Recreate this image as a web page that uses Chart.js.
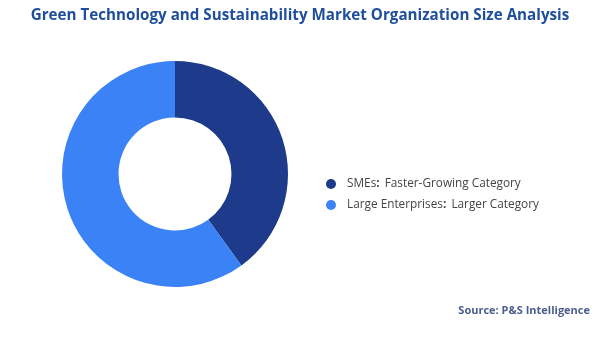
<!DOCTYPE html>
<html><head><meta charset="utf-8">
<script src="https://cdn.jsdelivr.net/npm/chart.js@4/dist/chart.umd.min.js"></script>
<style>html,body{margin:0;padding:0;background:#fff;}#wrap{width:600px;height:337px;position:relative;}</style>
</head><body><div id="wrap"><canvas id="c" width="600" height="337"></canvas></div>
<script>
const categories = ["SMEs", "Large Enterprises"];
const descriptions = ["Faster-Growing Category", "Larger Category"];
const shares = [40, 60];
const colors = ["#1e3a8a", "#3b82f6"];
const titleText = "Green Technology and Sustainability Market Organization Size Analysis";
const sourceText = "Source: P&S Intelligence";

const overlay = {
  id: 'overlay',
  afterDraw(chart) {
    const ctx = chart.ctx;
    ctx.save();
    ctx.fillStyle = '#1f4e9c';
    ctx.font = 'bold 15.2px "Open Sans", sans-serif';
    ctx.textAlign = 'center';
    ctx.textBaseline = 'middle';
    ctx.fillText(titleText, 300, 16);
    // legend
    ctx.textAlign = 'left';
    chart.data.labels.forEach((lab, i) => {
      const y = 184 + i * 21;
      ctx.fillStyle = chart.data.datasets[0].backgroundColor[i];
      ctx.beginPath(); ctx.arc(331, y, 5, 0, Math.PI * 2); ctx.fill();
      ctx.fillStyle = '#444';
      ctx.font = '11.8px "Open Sans", sans-serif';
      const part1 = lab;
      ctx.fillText(part1, 347, y);
      let x = 347 + ctx.measureText(part1).width;
      ctx.font = 'bold 11.8px "Open Sans", sans-serif';
      ctx.fillText(':', x, y);
      x += ctx.measureText(': ').width + 2;
      ctx.font = '11.8px "Open Sans", sans-serif';
      ctx.fillText(descriptions[i], x, y);
    });
    ctx.fillStyle = '#4b5e8f';
    ctx.font = 'bold 11px "Open Sans", sans-serif';
    ctx.textAlign = 'right';
    ctx.fillText(sourceText, 590, 311);
    ctx.restore();
  }
};

new Chart(document.getElementById('c'), {
  type: 'doughnut',
  data: { labels: categories, datasets: [{ data: shares, backgroundColor: colors, borderWidth: 0 }] },
  options: {
    responsive: false, animation: false, cutout: '50%',
    layout: { padding: { left: 62, right: 312, top: 61, bottom: 50 } },
    plugins: { legend: { display: false }, tooltip: { enabled: false } }
  },
  plugins: [overlay]
});
</script></body></html>
